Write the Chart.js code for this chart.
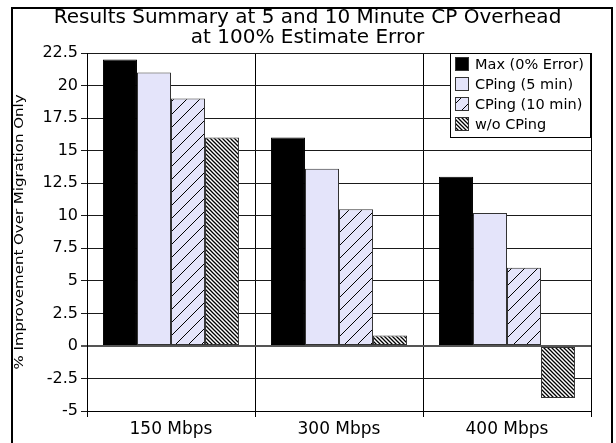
<!DOCTYPE html>
<html>
<head>
<meta charset="utf-8">
<script src="https://cdn.jsdelivr.net/npm/chart.js@4/dist/chart.umd.min.js"></script>
<style>
    html, body { margin: 0; padding: 0; background: #ffffff; }
    #wrap { width: 616px; height: 443px; }
</style>
</head>
<body>
<div id="wrap"><canvas id="chart"></canvas></div>
<script>
const categories = ['150 Mbps', '300 Mbps', '400 Mbps'];
const seriesNames = ['Max (0% Error)', 'CPing (5 min)', 'CPing (10 min)', 'w/o CPing'];
const maxValues = [22, 16, 13];
const cping5Values = [21, 13.6, 10.2];
const cping10Values = [19, 10.5, 6];
const noCpingValues = [16, 0.8, -4];
const yMin = -5;
const yMax = 22.5;
const yStep = 2.5;

const titleLines = ['Results Summary at 5 and 10 Minute CP Overhead', 'at 100% Estimate Error'];
const yAxisTitle = '% Improvement Over Migration Only';

const fontFamily = "'DejaVu Sans', sans-serif";
const lavender = '#e4e4fa';

// pattern tiles
const makePattern = (size, bg, draw) => {
    const tile = document.createElement('canvas');
    tile.width = size;
    tile.height = size;
    const c = tile.getContext('2d');
    c.fillStyle = bg;
    c.fillRect(0, 0, size, size);
    c.strokeStyle = '#000000';
    draw(c, size);
    return c.createPattern(tile, 'repeat');
};

const slashPattern = makePattern(13, lavender, (c, s) => {
    c.lineWidth = 1;
    c.beginPath();
    c.moveTo(-1, s + 1);
    c.lineTo(s + 1, -1);
    c.stroke();
});

const densePattern = makePattern(4, '#ffffff', (c, s) => {
    c.lineWidth = 1.3;
    c.beginPath();
    c.moveTo(-1, -1);
    c.lineTo(s + 1, s + 1);
    c.moveTo(-1, s - 1);
    c.lineTo(1, s + 1);
    c.moveTo(s - 1, -1);
    c.lineTo(s + 1, 1);
    c.stroke();
});

const framePlugin = {
    id: 'frame',
    beforeDraw(chart) {
        const { ctx } = chart;
        ctx.save();
        ctx.fillStyle = '#ffffff';
        ctx.fillRect(0, 0, chart.width, chart.height);
        ctx.strokeStyle = '#000000';
        ctx.lineWidth = 2;
        ctx.strokeRect(12, 8, 600, 460);
        ctx.restore();
    },
    afterDraw(chart) {
        const { ctx, chartArea } = chart;
        ctx.save();

        // y axis title, a little stretched along the axis like the original
        ctx.font = `13px ${fontFamily}`;
        ctx.fillStyle = '#000000';
        ctx.textAlign = 'center';
        ctx.textBaseline = 'middle';
        const textWidth = ctx.measureText(yAxisTitle).width;
        const targetLength = 275;
        ctx.translate(20, 232);
        ctx.rotate(-Math.PI / 2);
        ctx.scale(targetLength / textWidth, 1);
        ctx.fillText(yAxisTitle, 0, 0);
        ctx.restore();

        // legend box in the top right corner of the plot
        const boxRight = chartArea.right;
        const boxLeft = boxRight - 141;
        const boxTop = chartArea.top;
        const rowH = 20;
        const boxH = 84;
        ctx.save();
        ctx.fillStyle = '#ffffff';
        ctx.fillRect(boxLeft, boxTop, boxRight - boxLeft, boxH);
        ctx.strokeStyle = '#000000';
        ctx.lineWidth = 1;
        ctx.strokeRect(boxLeft + 0.5, boxTop + 0.5, boxRight - boxLeft - 1, boxH);
        ctx.font = `14.5px ${fontFamily}`;
        ctx.textAlign = 'left';
        ctx.textBaseline = 'middle';
        chart.data.datasets.forEach((ds, i) => {
            const cy = boxTop + 11 + i * rowH;
            ctx.fillStyle = ds.backgroundColor;
            ctx.fillRect(boxLeft + 5, cy - 7, 14, 14);
            ctx.strokeStyle = '#333333';
            ctx.strokeRect(boxLeft + 5.5, cy - 6.5, 13, 13);
            ctx.fillStyle = '#000000';
            ctx.fillText(ds.label, boxLeft + 25, cy + 1);
        });
        ctx.restore();
    },
};

const barStyle = {
    borderColor: '#333333',
    borderWidth: 1,
    borderSkipped: false,
    categoryPercentage: 0.81,
    barPercentage: 1,
};

new Chart(document.getElementById('chart'), {
    type: 'bar',
    data: {
        labels: categories,
        datasets: [
            { ...barStyle, label: seriesNames[0], data: maxValues, backgroundColor: '#000000', borderColor: '#000000' },
            { ...barStyle, label: seriesNames[1], data: cping5Values, backgroundColor: lavender },
            { ...barStyle, label: seriesNames[2], data: cping10Values, backgroundColor: slashPattern },
            { ...barStyle, label: seriesNames[3], data: noCpingValues, backgroundColor: densePattern },
        ],
    },
    options: {
        responsive: true,
        maintainAspectRatio: false,
        animation: false,
        devicePixelRatio: 1,
        layout: {
            padding: { left: 24, right: 25, top: 0, bottom: 0 },
        },
        plugins: {
            legend: { display: false },
            tooltip: { enabled: false },
            title: {
                display: true,
                text: titleLines,
                color: '#000000',
                font: { family: fontFamily, size: 20, weight: 'normal', lineHeight: 1.0 },
                padding: { top: 8, bottom: 5 },
            },
        },
        scales: {
            x: {
                offset: true,
                grid: {
                    offset: true,
                    color: '#000000',
                    lineWidth: 1,
                    tickLength: 6,
                },
                border: { display: true, color: '#000000', width: 1 },
                ticks: {
                    color: '#000000',
                    font: { family: fontFamily, size: 17 },
                    padding: 2,
                },
                afterFit(scale) {
                    scale.height = 32;
                },
            },
            y: {
                min: yMin,
                max: yMax,
                grid: {
                    color: (ctx) => (ctx.tick && ctx.tick.value === 0 ? '#555555' : '#1a1a1a'),
                    lineWidth: (ctx) => (ctx.tick && ctx.tick.value === 0 ? 2 : 1),
                    tickLength: 6,
                },
                border: { display: true, color: '#000000', width: 1 },
                ticks: {
                    stepSize: yStep,
                    color: '#000000',
                    font: { family: fontFamily, size: 16 },
                    padding: 3,
                },
                afterFit(scale) {
                    scale.width = 63;
                },
            },
        },
    },
    plugins: [framePlugin],
});
</script>
</body>
</html>
